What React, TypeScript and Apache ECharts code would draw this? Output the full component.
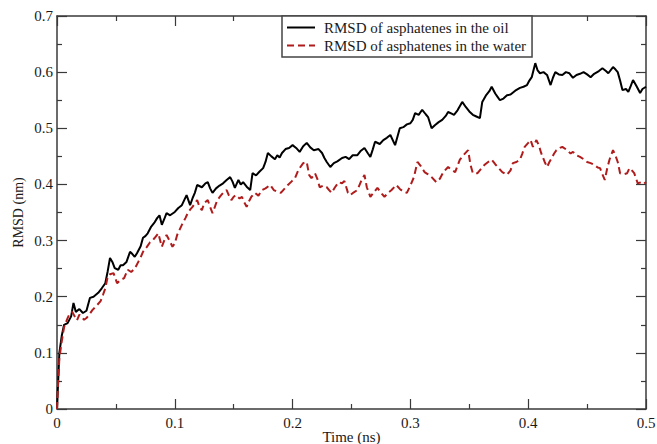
import React, { useEffect, useRef } from "react";
import * as echarts from "echarts";

const xTicks = [0, 0.1, 0.2, 0.3, 0.4, 0.5];
const yTicks = [0, 0.1, 0.2, 0.3, 0.4, 0.5, 0.6, 0.7];

const oilTime = [0, 0.001, 0.002, 0.004, 0.006, 0.009, 0.012, 0.014, 0.016, 0.019, 0.022, 0.025, 0.028, 0.031, 0.035, 0.038, 0.041, 0.043, 0.045, 0.047, 0.049, 0.052, 0.054, 0.056, 0.059, 0.062, 0.064, 0.066, 0.068, 0.071, 0.073, 0.075, 0.077, 0.08, 0.083, 0.085, 0.087, 0.089, 0.091, 0.093, 0.096, 0.1, 0.103, 0.106, 0.108, 0.11, 0.113, 0.115, 0.117, 0.119, 0.123, 0.126, 0.128, 0.13, 0.132, 0.135, 0.138, 0.141, 0.144, 0.147, 0.149, 0.151, 0.154, 0.156, 0.158, 0.161, 0.164, 0.166, 0.169, 0.172, 0.175, 0.177, 0.179, 0.182, 0.185, 0.187, 0.189, 0.191, 0.194, 0.197, 0.2, 0.203, 0.206, 0.209, 0.212, 0.215, 0.218, 0.222, 0.225, 0.227, 0.229, 0.232, 0.235, 0.238, 0.242, 0.245, 0.248, 0.251, 0.255, 0.258, 0.261, 0.264, 0.266, 0.268, 0.27, 0.274, 0.277, 0.28, 0.283, 0.287, 0.289, 0.291, 0.294, 0.297, 0.3, 0.302, 0.304, 0.307, 0.31, 0.313, 0.315, 0.318, 0.321, 0.324, 0.327, 0.33, 0.332, 0.335, 0.337, 0.34, 0.344, 0.347, 0.35, 0.353, 0.356, 0.359, 0.361, 0.364, 0.367, 0.369, 0.372, 0.374, 0.376, 0.379, 0.382, 0.385, 0.389, 0.393, 0.396, 0.399, 0.401, 0.403, 0.406, 0.408, 0.41, 0.413, 0.416, 0.419, 0.421, 0.423, 0.426, 0.429, 0.432, 0.435, 0.438, 0.441, 0.444, 0.447, 0.45, 0.453, 0.456, 0.46, 0.463, 0.466, 0.468, 0.472, 0.474, 0.476, 0.478, 0.48, 0.483, 0.485, 0.487, 0.489, 0.492, 0.495, 0.497, 0.5];
const oilRmsd = [0, 0.05, 0.1, 0.13, 0.15, 0.153, 0.165, 0.189, 0.173, 0.178, 0.171, 0.175, 0.198, 0.2, 0.207, 0.215, 0.224, 0.245, 0.269, 0.262, 0.251, 0.248, 0.256, 0.256, 0.262, 0.28, 0.276, 0.271, 0.278, 0.29, 0.305, 0.308, 0.313, 0.325, 0.333, 0.34, 0.345, 0.328, 0.338, 0.349, 0.345, 0.351, 0.358, 0.363, 0.372, 0.381, 0.363, 0.375, 0.385, 0.399, 0.395, 0.402, 0.404, 0.393, 0.385, 0.393, 0.398, 0.402, 0.408, 0.413, 0.405, 0.394, 0.408, 0.4, 0.404, 0.396, 0.39, 0.42, 0.416, 0.423, 0.429, 0.44, 0.456, 0.45, 0.445, 0.452, 0.448, 0.456, 0.463, 0.465, 0.47, 0.465, 0.458, 0.468, 0.474, 0.466, 0.461, 0.463, 0.456, 0.447, 0.44, 0.431, 0.438, 0.441, 0.447, 0.449, 0.445, 0.452, 0.452, 0.46, 0.465, 0.455, 0.449, 0.462, 0.476, 0.472, 0.479, 0.483, 0.488, 0.47, 0.485, 0.5, 0.502, 0.507, 0.509, 0.515, 0.527, 0.524, 0.533, 0.525, 0.52, 0.5, 0.506, 0.511, 0.515, 0.522, 0.529, 0.526, 0.524, 0.532, 0.547, 0.538, 0.53, 0.524, 0.521, 0.518, 0.547, 0.558, 0.566, 0.574, 0.562, 0.556, 0.55, 0.553, 0.559, 0.56, 0.567, 0.572, 0.574, 0.577, 0.585, 0.591, 0.616, 0.603, 0.598, 0.6, 0.595, 0.577, 0.59, 0.6, 0.596, 0.595, 0.6, 0.598, 0.59, 0.595, 0.597, 0.6, 0.596, 0.591, 0.597, 0.602, 0.607, 0.602, 0.598, 0.609, 0.605, 0.6, 0.585, 0.568, 0.57, 0.565, 0.575, 0.586, 0.575, 0.563, 0.57, 0.574];

const waterTime = [0, 0.001, 0.002, 0.004, 0.006, 0.009, 0.011, 0.013, 0.015, 0.017, 0.019, 0.021, 0.023, 0.025, 0.028, 0.03, 0.034, 0.037, 0.039, 0.041, 0.043, 0.045, 0.048, 0.051, 0.054, 0.057, 0.06, 0.063, 0.066, 0.069, 0.071, 0.073, 0.076, 0.079, 0.081, 0.083, 0.086, 0.089, 0.091, 0.093, 0.096, 0.098, 0.1, 0.102, 0.104, 0.106, 0.109, 0.111, 0.113, 0.115, 0.117, 0.119, 0.121, 0.123, 0.125, 0.128, 0.13, 0.132, 0.134, 0.136, 0.139, 0.141, 0.144, 0.146, 0.148, 0.15, 0.152, 0.155, 0.157, 0.159, 0.161, 0.163, 0.165, 0.168, 0.171, 0.174, 0.177, 0.181, 0.184, 0.187, 0.19, 0.193, 0.196, 0.199, 0.202, 0.205, 0.209, 0.212, 0.214, 0.216, 0.219, 0.221, 0.223, 0.226, 0.229, 0.231, 0.233, 0.236, 0.239, 0.242, 0.244, 0.247, 0.249, 0.252, 0.255, 0.258, 0.261, 0.263, 0.266, 0.269, 0.272, 0.275, 0.278, 0.281, 0.284, 0.288, 0.291, 0.294, 0.297, 0.3, 0.303, 0.306, 0.309, 0.312, 0.315, 0.318, 0.322, 0.325, 0.328, 0.332, 0.335, 0.338, 0.342, 0.345, 0.349, 0.351, 0.353, 0.357, 0.36, 0.363, 0.366, 0.369, 0.372, 0.375, 0.378, 0.382, 0.385, 0.387, 0.39, 0.393, 0.395, 0.397, 0.4, 0.402, 0.404, 0.407, 0.409, 0.411, 0.414, 0.416, 0.418, 0.42, 0.422, 0.424, 0.427, 0.429, 0.431, 0.433, 0.436, 0.438, 0.441, 0.444, 0.447, 0.45, 0.453, 0.456, 0.459, 0.461, 0.463, 0.465, 0.467, 0.469, 0.472, 0.474, 0.476, 0.478, 0.481, 0.484, 0.486, 0.488, 0.49, 0.493, 0.496, 0.498, 0.5];
const waterRmsd = [0, 0.05, 0.09, 0.12, 0.146, 0.162, 0.171, 0.173, 0.165, 0.158, 0.168, 0.164, 0.159, 0.162, 0.17, 0.176, 0.185, 0.192, 0.203, 0.215, 0.235, 0.24, 0.242, 0.224, 0.23, 0.233, 0.248, 0.244, 0.25, 0.262, 0.27, 0.28, 0.288, 0.297, 0.3, 0.305, 0.313, 0.289, 0.3, 0.31, 0.298, 0.289, 0.295, 0.31, 0.319, 0.328, 0.34, 0.349, 0.355, 0.36, 0.366, 0.372, 0.36, 0.354, 0.367, 0.372, 0.36, 0.349, 0.36, 0.372, 0.38, 0.385, 0.39, 0.38, 0.372, 0.378, 0.381, 0.375, 0.378, 0.368, 0.36, 0.37, 0.378, 0.385, 0.38, 0.39, 0.393, 0.399, 0.39, 0.387, 0.385, 0.392, 0.399, 0.405, 0.411, 0.426, 0.438, 0.44, 0.417, 0.411, 0.42, 0.41, 0.395, 0.398, 0.395, 0.39, 0.385, 0.395, 0.404, 0.402, 0.406, 0.385, 0.381, 0.386, 0.39, 0.405, 0.417, 0.395, 0.378, 0.386, 0.394, 0.385, 0.378, 0.385, 0.39, 0.399, 0.392, 0.387, 0.385, 0.398, 0.413, 0.44, 0.432, 0.422, 0.418, 0.413, 0.404, 0.41, 0.422, 0.431, 0.426, 0.422, 0.444, 0.452, 0.461, 0.435, 0.42, 0.42, 0.428, 0.435, 0.44, 0.444, 0.436, 0.429, 0.422, 0.417, 0.425, 0.438, 0.44, 0.444, 0.455, 0.467, 0.474, 0.479, 0.467, 0.479, 0.47, 0.456, 0.44, 0.431, 0.44, 0.447, 0.455, 0.461, 0.465, 0.467, 0.464, 0.461, 0.455, 0.458, 0.452, 0.449, 0.445, 0.44, 0.438, 0.435, 0.43, 0.429, 0.418, 0.408, 0.428, 0.444, 0.461, 0.452, 0.44, 0.42, 0.418, 0.42, 0.429, 0.425, 0.42, 0.402, 0.404, 0.401, 0.404];

const seriesNames = ["RMSD of asphatenes in the oil", "RMSD of asphatenes in the water"];

const FONT = "Liberation Serif";

export default function App() {
  const ref = useRef<HTMLDivElement>(null);
  useEffect(() => {
    if (!ref.current) return;
    const chart = echarts.init(ref.current, undefined, { renderer: "svg" });
    const mk = () => ({
      axisLine: { show: true, onZero: false, lineStyle: { color: "#3a3a3a", width: 1.5 } },
      axisTick: { show: true, inside: false, length: -10, lineStyle: { color: "#3a3a3a", width: 1.2 } },
      minorTick: { show: true, splitNumber: 2, length: -5, lineStyle: { color: "#3a3a3a", width: 1.2 } },
      splitLine: { show: false },
      minorSplitLine: { show: false },
    });
    const xCommon = () => ({
      type: "value" as const,
      min: xTicks[0],
      max: xTicks[xTicks.length - 1],
      interval: 0.1,
      ...mk(),
    });
    const yCommon = () => ({
      type: "value" as const,
      min: yTicks[0],
      max: yTicks[yTicks.length - 1],
      interval: 0.1,
      ...mk(),
    });
    chart.setOption({
      animation: false,
      backgroundColor: "#ffffff",
      grid: { left: 57, right: 11, top: 16, bottom: 35, containLabel: false, outerBoundsMode: "none" },
      textStyle: { fontFamily: FONT },
      legend: {
        orient: "vertical",
        left: 282,
        top: 16,
        padding: [4, 6, 4, 4],
        itemGap: 3,
        itemWidth: 28,
        itemHeight: 14,
        borderColor: "#444",
        borderWidth: 1.5,
        backgroundColor: "#ffffff",
        itemStyle: { color: "transparent", borderColor: "transparent", borderWidth: 0, opacity: 0 },
        textStyle: { fontFamily: FONT, fontSize: 15, color: "#1a1a1a", padding: [0, 0, 0, 4] },
        data: seriesNames,
      },
      xAxis: [
        {
          ...xCommon(),
          position: "bottom",
          name: "Time (ns)",
          nameLocation: "middle",
          nameGap: 20,
          nameMoveOverlap: false,
          nameTextStyle: { fontFamily: FONT, fontSize: 15, color: "#1a1a1a" },
          axisLabel: {
            fontFamily: FONT,
            fontSize: 15,
            color: "#1a1a1a",
            margin: 6,
            formatter: (v: number) => String(Math.round(v * 10) / 10),
          },
        },
        { ...xCommon(), position: "top", axisLabel: { show: false } },
      ],
      yAxis: [
        {
          ...yCommon(),
          position: "left",
          name: "RMSD (nm)",
          nameLocation: "middle",
          nameGap: 32,
          nameRotate: 90,
          nameMoveOverlap: false,
          nameTextStyle: { fontFamily: FONT, fontSize: 14, color: "#1a1a1a" },
          axisLabel: {
            fontFamily: FONT,
            fontSize: 15,
            color: "#1a1a1a",
            margin: 4,
            formatter: (v: number) => String(Math.round(v * 10) / 10),
          },
        },
        { ...yCommon(), position: "right", axisLabel: { show: false } },
      ],
      series: [
        {
          name: seriesNames[0],
          type: "line",
          xAxisIndex: 0,
          yAxisIndex: 0,
          showSymbol: false,
          symbol: "none",
          lineStyle: { color: "#000000", width: 2 },
          itemStyle: { color: "#000000" },
          data: oilTime.map((t, i) => [t, oilRmsd[i]]),
        },
        {
          name: seriesNames[1],
          type: "line",
          xAxisIndex: 0,
          yAxisIndex: 0,
          showSymbol: false,
          symbol: "none",
          lineStyle: { color: "#b01c1c", width: 2, type: [7, 4] },
          itemStyle: { color: "#b01c1c" },
          data: waterTime.map((t, i) => [t, waterRmsd[i]]),
        },
      ],
    });
    return () => chart.dispose();
  }, []);
  return (
    <div
      ref={ref}
      style={{ position: "fixed", left: 0, top: 0, width: 657, height: 444, background: "#fff" }}
    />
  );
}
